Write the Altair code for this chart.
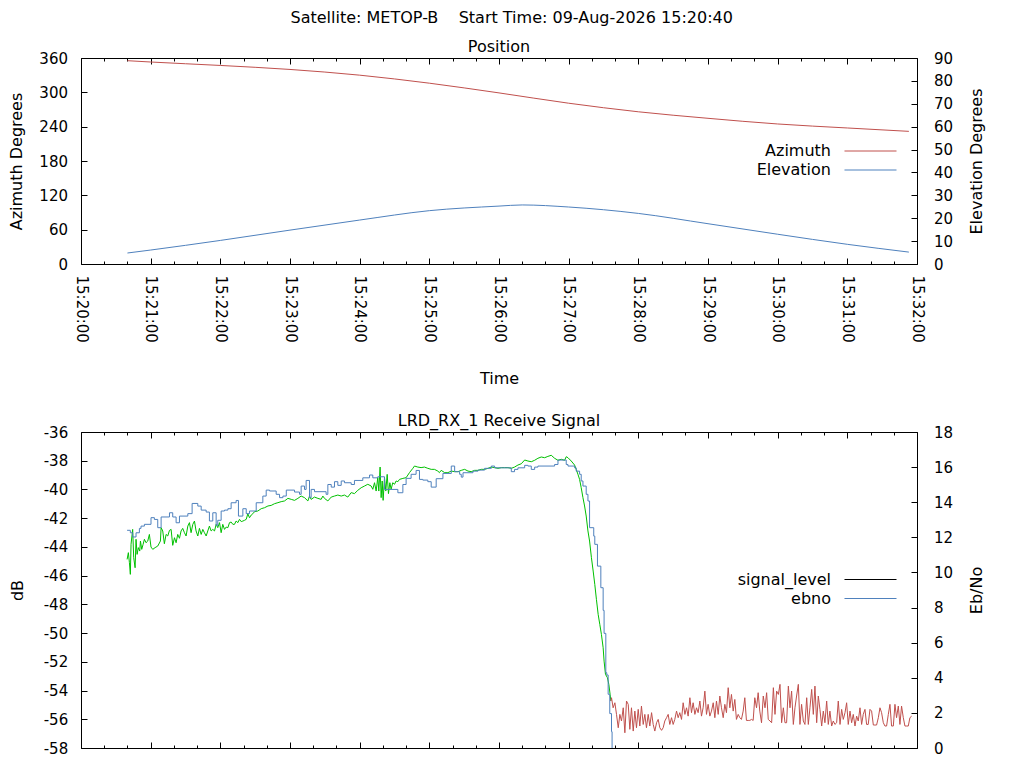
import altair as alt
import pandas as pd

FONT = "DejaVu Sans"
RED = "#c0504d"
BLUE = "#4f81bd"
GREEN = "#00c000"

BASE = pd.Timestamp("2026-08-09 15:20:00")
TITLE = "Satellite: METOP-B\u00a0\u00a0\u00a0\u00a0Start Time: 09-Aug-2026 15:20:40"

# ---- axis ticks ----
tick_minutes = [20, 21, 22, 23, 24, 25, 26, 27, 28, 29, 30, 31, 32]
tick_seconds = [0, 20, 40]
az_ticks = [0, 60, 120, 180, 240, 300, 360]
el_ticks = [0, 10, 20, 30, 40, 50, 60, 70, 80, 90]
db_ticks = [-58, -56, -54, -52, -50, -48, -46, -44, -42, -40, -38, -36]
ebno_ticks = [0, 2, 4, 6, 8, 10, 12, 14, 16, 18]

# ---- Position panel (seconds after 15:20:00, degrees) ----
az_t = [40, 60, 120, 180, 240, 300, 360, 420, 480, 540, 600, 660, 713]
az_v = [355.3, 353.0, 347.0, 340.0, 330.0, 316.0, 299.0, 281.0, 266.0, 254.6, 244.7, 237.7, 231.8]
el_t = [40, 60, 120, 180, 240, 300, 360, 380, 420, 480, 540, 600, 660, 713]
el_v = [4.8, 6.1, 10.3, 14.8, 19.2, 23.3, 25.3, 25.8, 24.9, 22.1, 17.6, 13.0, 8.6, 5.2]

# ---- Receive signal panel: (seconds after 15:20:00, dB) while locked ----
sig_lock_a = [
    (39.7, -44.87), (40.8, -44.40), (41.7, -45.10), (42.5, -45.91), (43.1, -43.82), (44.5, -42.78),
    (45.4, -44.75), (46.6, -45.45), (47.4, -43.47), (48.3, -44.52), (49.4, -44.05), (50.6, -44.29),
    (51.2, -43.59), (52.3, -44.17), (53.5, -43.82), (54.6, -43.47), (56.0, -43.71), (57.5, -43.59),
    (58.9, -43.13), (60.3, -44.01), (61.8, -44.17), (63.8, -44.05), (66.1, -43.94), (68.4, -43.59),
    (69.0, -42.66), (70.4, -42.89), (71.8, -43.78), (73.3, -43.13), (74.7, -43.24), (76.2, -42.85),
    (77.6, -42.78), (79.0, -43.89), (80.5, -43.36), (81.9, -43.71), (83.3, -43.13), (84.8, -43.40),
    (86.2, -42.89), (87.6, -42.71), (89.1, -43.01), (90.5, -43.24), (92.0, -42.55), (93.4, -42.31),
    (94.8, -43.01), (96.3, -42.43), (97.7, -42.20), (99.1, -42.89), (100.6, -43.24), (102.0, -42.71),
    (103.5, -43.13), (104.9, -42.78), (106.3, -43.01), (107.8, -43.24), (109.2, -42.89), (110.6, -42.55),
    (112.1, -42.89), (113.5, -42.78), (115.0, -42.89), (116.4, -42.43), (117.8, -42.66), (119.3, -42.31),
    (120.7, -43.01), (122.1, -42.43), (123.6, -42.78), (125.0, -42.62), (126.5, -42.66), (127.9, -42.31),
    (129.3, -42.27), (130.8, -42.43), (132.2, -42.43), (133.6, -42.20), (135.1, -42.31), (136.5, -42.08),
    (138.0, -42.24), (139.4, -42.20), (140.8, -42.15), (142.3, -42.08), (143.7, -41.69), (145.1, -41.97),
    (146.6, -41.78), (148.0, -41.69), (149.4, -41.55), (152.3, -41.50), (155.2, -41.34), (158.1, -41.27),
    (161.0, -41.15), (163.8, -41.11), (166.7, -40.99), (169.6, -40.92), (172.4, -40.85), (175.3, -40.80),
    (178.2, -40.62), (181.1, -40.69),
]
sig_lock_b = [
    (183.9, -40.76), (186.8, -40.62), (189.6, -40.46), (192.5, -40.57), (195.4, -40.80), (196.8, -40.46),
    (198.2, -40.69), (201.1, -40.53), (204.0, -40.62), (206.8, -40.69), (208.3, -40.46), (209.7, -40.62),
    (212.6, -40.80), (215.5, -40.53), (218.3, -40.46), (221.2, -40.39), (224.1, -40.46), (226.9, -40.39),
    (229.8, -40.53), (232.7, -40.22), (235.5, -40.29), (238.4, -40.06), (241.3, -39.88), (244.2, -39.76),
    (247.0, -39.64), (249.9, -39.76), (251.3, -39.99), (252.8, -39.53), (254.2, -40.11), (255.6, -39.18),
    (256.5, -40.11), (257.6, -38.44), (258.5, -40.57), (259.4, -39.41), (260.2, -40.76), (261.4, -39.18),
    (262.5, -40.11), (263.7, -38.95), (264.8, -40.29), (266.0, -39.53), (267.1, -39.99), (268.5, -39.53),
    (270.0, -39.64), (271.4, -39.41), (272.9, -39.46), (274.3, -39.30), (277.2, -39.23), (280.0, -39.18),
    (282.9, -38.83), (285.8, -38.53), (287.2, -38.37), (290.1, -38.44), (292.9, -38.48), (295.8, -38.44),
    (298.7, -38.53), (301.6, -38.60), (304.4, -38.60), (307.3, -38.72), (308.7, -38.83), (310.2, -38.67),
]
sig_lock_c = [
    (313.2, -38.83), (316.0, -38.83), (318.9, -38.72), (321.8, -38.76), (324.7, -38.76), (327.5, -38.67),
    (330.4, -38.60), (333.3, -38.72), (336.1, -38.76), (339.0, -38.67), (341.9, -38.67), (344.7, -38.60),
    (347.6, -38.60), (350.5, -38.53), (353.4, -38.44), (356.2, -38.48), (359.1, -38.53), (362.0, -38.48),
    (364.8, -38.48), (367.7, -38.48), (370.6, -38.53), (373.4, -38.44), (376.3, -38.30), (379.2, -38.21),
    (382.1, -37.95), (384.9, -38.02), (387.8, -38.07), (390.7, -37.97), (393.5, -37.83), (396.4, -37.74),
    (399.3, -37.79), (402.1, -37.70), (405.0, -37.62), (407.9, -37.83), (410.8, -37.97), (413.6, -37.90),
    (416.5, -37.97), (417.9, -37.72), (419.4, -37.79), (422.2, -38.02), (425.1, -38.30), (426.5, -38.60),
    (428.0, -38.95), (429.4, -39.30), (430.8, -39.88), (432.3, -40.57), (433.7, -41.15), (435.1, -41.85),
    (436.6, -42.89), (438.0, -43.59), (439.6, -44.75), (441.1, -45.68), (442.5, -46.61), (443.9, -47.65),
    (445.4, -48.70), (446.8, -49.39), (448.2, -50.09), (449.7, -51.02), (450.5, -51.95), (451.7, -52.87),
    (453.4, -53.11), (454.6, -53.57), (455.7, -54.27), (456.3, -54.73),
]
# signal level after loss of lock (dB)
sig_unlock_a = [
    (456.3, -54.73), (456.9, -54.50), (458.3, -55.20), (459.8, -54.85), (461.2, -55.66), (462.7, -56.59),
    (464.1, -55.66), (465.5, -56.12), (467.0, -55.20), (468.4, -56.94), (469.8, -54.73), (471.3, -54.96),
    (472.7, -56.70), (474.1, -55.20), (475.6, -56.82), (477.0, -55.43), (478.4, -56.59), (479.9, -55.31),
    (481.3, -56.47), (482.7, -55.08), (484.2, -56.36), (485.6, -55.66), (487.0, -56.59), (488.5, -55.66),
    (489.9, -56.47), (491.4, -55.54), (492.8, -56.36), (494.2, -56.82), (495.7, -56.24), (497.1, -56.01),
    (498.5, -56.59), (500.0, -56.77), (501.4, -56.59), (502.8, -56.12), (504.3, -55.89), (505.7, -55.66),
    (507.1, -56.36), (508.6, -55.89), (510.0, -56.36), (511.4, -56.01), (512.9, -55.43), (514.3, -55.89),
    (515.7, -55.54), (517.2, -56.01), (518.6, -54.85), (520.1, -55.66), (521.5, -55.20), (522.9, -55.78),
    (524.4, -54.50), (525.8, -55.54), (527.2, -54.85), (528.7, -55.66), (530.1, -55.20), (531.5, -55.54),
    (533.0, -54.73), (534.4, -55.78), (535.8, -55.20), (537.3, -54.04), (538.7, -55.66), (540.1, -54.96),
    (541.6, -55.78), (543.0, -55.43), (544.5, -54.85), (545.9, -55.89), (547.3, -54.73), (548.8, -55.66),
    (550.2, -54.38), (551.6, -55.20), (553.1, -55.89), (554.5, -54.96), (555.9, -55.54), (557.4, -53.80),
    (558.8, -55.20), (560.2, -54.27), (561.7, -55.43), (563.1, -54.62), (564.5, -56.01), (566.0, -55.66),
    (567.4, -55.89), (568.8, -56.01), (570.3, -55.43), (571.7, -54.50), (573.1, -56.08), (574.6, -56.08),
    (576.0, -56.08), (577.5, -56.01), (578.9, -56.08), (580.3, -54.50), (581.8, -55.20), (583.2, -54.15),
    (584.6, -55.43), (586.1, -56.24),
]
sig_unlock_b = [
    (587.6, -54.38), (589.1, -55.20), (590.5, -54.15), (591.9, -56.01), (593.4, -56.12), (594.8, -56.24),
    (596.3, -53.80), (597.7, -55.66), (599.1, -54.04), (600.6, -54.27), (602.0, -53.57), (603.4, -56.24),
    (604.9, -55.20), (606.3, -56.24), (607.7, -56.24), (609.2, -53.69), (610.6, -55.20), (612.0, -54.04),
    (613.5, -56.36), (614.9, -55.20), (616.3, -54.38), (617.8, -53.57), (619.2, -56.36), (620.6, -54.96),
    (622.1, -56.12), (623.5, -56.36), (625.0, -54.50), (626.4, -56.36), (627.8, -55.20), (629.3, -53.92),
    (630.7, -55.66), (632.1, -53.69), (633.6, -56.24), (635.0, -54.38), (636.4, -55.31), (637.9, -56.47),
    (639.3, -55.43), (640.7, -56.24), (642.2, -54.73), (643.6, -56.36), (645.0, -55.43), (646.5, -56.47),
    (647.9, -56.12), (649.3, -56.36), (650.8, -56.24), (652.2, -54.73), (653.7, -56.36), (655.1, -55.31),
    (656.5, -56.01), (658.0, -55.54), (659.4, -54.85), (660.8, -56.36), (662.3, -55.43), (663.7, -56.24),
    (665.1, -55.66), (666.6, -56.47), (668.0, -55.78), (669.4, -56.12), (670.9, -55.20), (672.3, -56.36),
    (673.7, -55.66), (675.2, -55.31), (676.6, -56.36), (678.0, -56.36), (679.5, -55.31), (680.9, -55.43),
    (682.4, -56.40), (683.8, -56.40), (685.2, -56.40), (686.7, -55.89), (688.1, -55.20), (689.5, -55.54),
    (691.0, -56.24), (692.4, -56.47), (693.8, -56.47), (695.3, -55.66), (696.7, -54.96), (698.1, -56.47),
    (699.6, -56.47), (701.0, -54.96), (702.4, -55.89), (703.9, -55.08), (705.3, -56.36), (706.7, -55.08),
    (708.2, -55.89), (709.6, -56.47), (711.1, -56.47), (712.5, -56.47), (713.9, -55.89), (715.4, -55.78),
]
# Eb/No (seconds after 15:20:00, value)
ebno_pts = [
    (39.7, 12.40), (42.5, 12.26), (44.5, 12.02), (47.4, 12.26), (50.3, 12.51), (51.7, 12.64), (54.6, 12.74),
    (60.3, 13.12), (63.2, 13.02), (66.1, 12.55), (69.0, 13.16), (76.2, 13.40), (79.0, 13.16), (81.9, 12.83),
    (84.8, 13.21), (92.0, 13.35), (95.7, 13.93), (100.6, 13.78), (103.5, 13.55), (107.8, 13.44), (110.6, 12.93),
    (113.5, 13.40), (116.4, 12.68), (117.8, 12.97), (120.7, 13.50), (123.6, 13.55), (126.5, 13.63), (129.3, 13.97),
    (133.6, 14.10), (135.6, 13.21), (139.4, 13.63), (142.3, 13.35), (145.1, 13.50), (150.9, 13.97), (156.6, 14.35),
    (159.5, 14.69), (162.4, 14.64), (168.1, 14.45), (171.0, 14.26), (173.9, 14.35), (176.8, 14.69), (183.9, 14.58),
    (188.2, 14.45), (189.6, 14.92), (192.5, 14.73), (193.9, 15.24), (196.8, 14.26), (198.2, 14.73), (201.1, 14.60),
    (211.1, 14.45), (212.6, 15.01), (215.5, 14.86), (218.3, 15.17), (221.2, 14.96), (224.1, 15.21), (226.9, 15.11),
    (232.7, 15.01), (235.5, 15.24), (242.7, 15.39), (248.5, 15.55), (251.3, 15.39), (255.6, 15.45), (261.4, 14.73),
    (272.9, 14.54), (277.2, 15.01), (280.0, 15.36), (284.3, 15.59), (288.6, 15.81), (291.5, 15.30), (294.4, 15.26),
    (298.7, 15.17), (301.6, 14.86), (305.9, 15.34), (311.7, 15.64), (318.9, 16.06), (321.8, 15.74), (326.1, 15.59),
    (327.5, 15.43), (329.0, 15.68), (337.6, 15.77), (341.9, 15.83), (347.6, 15.93), (353.4, 16.06), (356.2, 15.96),
    (370.6, 15.74), (373.4, 15.87), (376.3, 15.96), (382.1, 16.10), (384.9, 16.06), (387.8, 15.87), (390.7, 16.00),
    (393.5, 16.06), (407.9, 16.15), (410.8, 16.40), (417.9, 16.15), (419.4, 16.06), (425.1, 15.96), (426.5, 15.77),
    (429.4, 15.59), (430.8, 15.21), (432.3, 14.92), (435.1, 14.45), (436.6, 14.07), (438.0, 12.55), (441.6, 12.07),
    (442.5, 11.60), (444.8, 10.36), (447.7, 9.13), (449.7, 7.84), (450.5, 6.53), (452.0, 4.29), (452.8, 4.16),
    (454.0, 3.06), (455.4, 1.96), (456.9, 0.93), (457.4, 0.0),
]


def ts(sec):
    return (BASE + pd.to_timedelta(sec, unit="s")).strftime("%Y-%m-%dT%H:%M:%S.%f")[:-3]


def frame(pairs, col):
    return pd.DataFrame({"time": [ts(p[0]) for p in pairs], col: [p[1] for p in pairs]})


az_df = pd.DataFrame({"time": [ts(s) for s in az_t], "deg": az_v, "series": "Azimuth"})
el_df = pd.DataFrame({"time": [ts(s) for s in el_t], "deg": el_v, "series": "Elevation"})
lock_df = frame(sig_lock_a + sig_lock_b + sig_lock_c, "db")
lock_df["series"] = "lock"
unlock_df = frame(sig_unlock_a + sig_unlock_b, "db")
unlock_df["series"] = "nolock"
sig_df = pd.concat([lock_df, unlock_df], ignore_index=True)
ebno_df = frame(ebno_pts, "ebno")
ebno_df["series"] = "ebno"

TOP_H = 206
BOT_H = 316
W = 836
FS = 16       # titles / legend
TFS = 15      # tick labels


def dt(m, s):
    return alt.DateTime(year=2026, month=8, date=9, hours=15, minutes=m, seconds=s)


x_scale = alt.Scale(domain=[dt(tick_minutes[0], 0), dt(tick_minutes[-1], 0)], nice=False)
x_values = [dt(m, s) for m in tick_minutes for s in tick_seconds if not (m == tick_minutes[-1] and s > 0)]

GRID = dict(grid=True, gridColor="black", gridOpacity=1, gridWidth=1, ticks=False, domain=False,
            tickCount=200)


def x_enc(h, labels):
    dash = {"condition": {"test": "seconds(datum.value) == 0", "value": [6, h - 12, 6, 2000]},
            "value": [3, h - 6, 3, 2000]}
    kw = dict(orient="bottom", values=x_values, gridDash=dash, **GRID)
    if labels:
        kw.update(title="Time", labelAngle=90, labelAlign="left", labelBaseline="middle",
                  labelPadding=11, labelFlush=False, labelOverlap=False, titlePadding=28,
                  labelExpr="seconds(datum.value) == 0 ? timeFormat(datum.value, '%H:%M:%S') : ''")
        return alt.X("time:T", scale=x_scale, axis=alt.Axis(**kw))
    kw.update(labels=False)
    return alt.X("time:T", scale=x_scale, axis=alt.Axis(**kw), title=None)


def y_axis(orient, title, values, pad, tpad):
    kw = dict(orient=orient, title=title, values=values, labelPadding=pad, titlePadding=tpad,
              gridDash=[6, 3000], labelExpr="'' + datum.value", **GRID)
    if orient == "right":
        kw.update(titleAngle=270, titleBaseline="top")
    return alt.Axis(**kw)


# legend: label text right-aligned, line sample drawn to its right
SYM = 14
SYM_PATH = "M3.07,0H10.5"


def legend(y, values):
    return alt.Legend(orient="none", legendX=734, legendY=y, values=values, symbolType=SYM_PATH,
                      symbolSize=SYM * SYM, symbolStrokeWidth=1, labelAlign="right",
                      labelOffset=0, symbolOffset=0, labelFontSize=FS, labelFont=FONT,
                      labelColor="black", padding=0, rowPadding=3)


# ---- top panel ----
az_chart = alt.Chart(az_df).mark_line(strokeWidth=1, interpolate="monotone").encode(
    x=x_enc(TOP_H, True),
    y=alt.Y("deg:Q", scale=alt.Scale(domain=[0, 360], nice=False),
            axis=y_axis("left", "Azimuth Degrees", az_ticks, 13.5, 14)),
    color=alt.Color("series:N", scale=alt.Scale(domain=["Azimuth", "Elevation"], range=[RED, BLUE]),
                    legend=legend(85, ["Azimuth", "Elevation"]), title=None),
)
el_chart = alt.Chart(el_df).mark_line(strokeWidth=1, interpolate="monotone").encode(
    x=alt.X("time:T", scale=x_scale),
    y=alt.Y("deg:Q", scale=alt.Scale(domain=[0, 90], nice=False),
            axis=y_axis("right", "Elevation Degrees", el_ticks, 16.5, 16)),
    color=alt.Color("series:N", title=None),
)
top = alt.layer(az_chart, el_chart).resolve_scale(y="independent").properties(
    width=W, height=TOP_H,
    title=alt.TitleParams("Position", font=FONT, fontSize=FS, fontWeight="normal", color="black",
                          offset=-4, frame="group", anchor="middle"),
)

# ---- bottom panel ----
sig_chart = alt.Chart(sig_df).mark_line(strokeWidth=1).encode(
    x=x_enc(BOT_H, False),
    y=alt.Y("db:Q", scale=alt.Scale(domain=[-58, -36], nice=False),
            axis=y_axis("left", "dB", db_ticks, 13.3, 18)),
    color=alt.Color("series:N",
                    scale=alt.Scale(domain=["signal_level", "ebno", "lock", "nolock"],
                                    range=["black", BLUE, GREEN, RED]),
                    legend=legend(139.5, ["signal_level", "ebno"]), title=None),
)
ebno_chart = alt.Chart(ebno_df).mark_line(strokeWidth=1, interpolate="step-after").encode(
    x=alt.X("time:T", scale=x_scale),
    y=alt.Y("ebno:Q", scale=alt.Scale(domain=[0, 18], nice=False),
            axis=y_axis("right", "Eb/No", ebno_ticks, 16.5, 16)),
    color=alt.Color("series:N", title=None),
)
bottom = alt.layer(sig_chart, ebno_chart).resolve_scale(y="independent").properties(
    width=W, height=BOT_H,
    title=alt.TitleParams("LRD_RX_1 Receive Signal", font=FONT, fontSize=FS, fontWeight="normal",
                          color="black", offset=-4, frame="group", anchor="middle"),
)

chart = alt.vconcat(top, bottom, spacing=168, bounds="flush").resolve_scale(color="independent").properties(
    title=alt.TitleParams(TITLE, font=FONT, fontSize=FS, fontWeight="normal", color="black",
                          anchor="middle", frame="bounds", offset=13, dx=15),
    padding={"left": 0, "top": 1, "right": 5, "bottom": 0},
).configure(font=FONT).configure_view(stroke="black", strokeWidth=1).configure_axis(
    labelFont=FONT, titleFont=FONT, labelFontSize=TFS, titleFontSize=FS, labelColor="black",
    titleColor="black", titleFontWeight="normal",
)

chart.save("out.html", embed_options={"renderer": "svg", "actions": False})
